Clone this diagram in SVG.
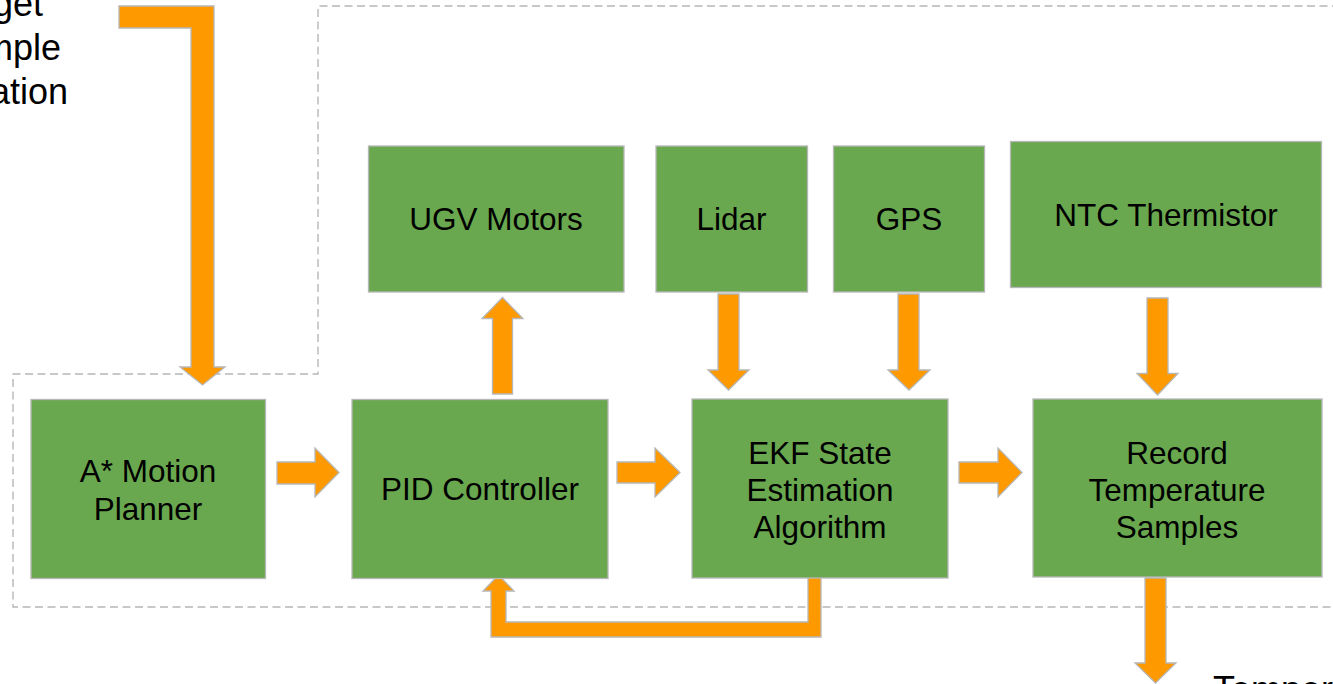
<svg xmlns="http://www.w3.org/2000/svg" width="1333" height="684" viewBox="0 0 1333 684">
  <style>
    .box { fill: #6aa84f; stroke: #b7b7b7; stroke-width: 1.3; }
    .lbl { font-family: "Liberation Sans", Arial, sans-serif; font-size: 31.5px; fill: #000000; text-anchor: middle; }
    .note { font-family: "Liberation Sans", Arial, sans-serif; font-size: 36px; fill: #000000; }
    .arrow { fill: #ff9900; stroke: #b7b7b7; stroke-width: 1.3; stroke-linejoin: miter; }
    .frame { fill: none; stroke: #b7b7b7; stroke-width: 1.4; stroke-dasharray: 8 4.5; }
  </style>
  <rect width="1333" height="684" fill="#ffffff"/>

  <!-- dashed boundary of the on-board system -->
  <path class="frame" d="M1340,6 H318 V374 H13 V607 H1340"/>

  <!-- free-standing labels at the page edges -->
  <g id="target-label">
    <text class="note" text-anchor="middle" x="-7" y="16">Target</text>
    <text class="note" text-anchor="middle" x="0" y="60">Sample</text>
    <text class="note" text-anchor="middle" x="0" y="104">Location</text>
  </g>
  <g id="output-label">
    <text class="note" x="1213" y="702">Temperature</text>
  </g>

  <!-- connectors (block arrows) -->
  <g id="connectors">
    <!-- target location into the planner -->
    <polygon class="arrow" points="119,6 214,6 214,367 225,367 202.5,385 180,367 191,367 191,28 119,28"/>
    <!-- planner to PID -->
    <polygon class="arrow" points="277,462 315,462 315,448 339,472.5 315,497 315,484 277,484"/>
    <!-- PID to EKF -->
    <polygon class="arrow" points="617,462 655,462 655,448 680,472.5 655,497 655,483 617,483"/>
    <!-- EKF to recorder -->
    <polygon class="arrow" points="959,462 998,462 998,448 1022,472.5 998,497 998,483 959,483"/>
    <!-- PID to motors -->
    <polygon class="arrow" points="492.5,394 492.5,318.5 482,318.5 502.5,297.5 523,318.5 512.5,318.5 512.5,394"/>
    <!-- lidar to EKF -->
    <polygon class="arrow" points="718,294 739,294 739,370 749,370 728.5,390 708,370 718,370"/>
    <!-- GPS to EKF -->
    <polygon class="arrow" points="898,294 919,294 919,370 930,370 909,390 888,370 898,370"/>
    <!-- thermistor to recorder -->
    <polygon class="arrow" points="1147,298 1168,298 1168,373.5 1178,373.5 1157.5,395 1137,373.5 1147,373.5"/>
    <!-- recorder output -->
    <polygon class="arrow" points="1145,578 1166,578 1166,663 1176,663 1155.5,683 1135,663 1145,663"/>
    <!-- state feedback from EKF back to PID -->
    <polygon class="arrow" points="808,576 821,576 821,637 491,637 491,591 483,591 498.5,575 514,591 506,591 506,622 808,622"/>
  </g>

  <g id="ugv-motors">
    <rect class="box" x="368.5" y="146" width="255.5" height="146"/>
    <text class="lbl" x="496" y="230">UGV Motors</text>
  </g>
  <g id="lidar">
    <rect class="box" x="656" y="146" width="151.5" height="146"/>
    <text class="lbl" x="731.5" y="230">Lidar</text>
  </g>
  <g id="gps">
    <rect class="box" x="833.5" y="146" width="151" height="146"/>
    <text class="lbl" x="909" y="230">GPS</text>
  </g>
  <g id="ntc-thermistor">
    <rect class="box" x="1010.5" y="141.5" width="311" height="146"/>
    <text class="lbl" x="1166" y="226">NTC Thermistor</text>
  </g>
  <g id="motion-planner">
    <rect class="box" x="31" y="399.5" width="234.5" height="179"/>
    <text class="lbl" x="148" y="482">A* Motion</text>
    <text class="lbl" x="148" y="519.5">Planner</text>
  </g>
  <g id="pid-controller">
    <rect class="box" x="352" y="399.5" width="256" height="179"/>
    <text class="lbl" x="480" y="500">PID Controller</text>
  </g>
  <g id="ekf">
    <rect class="box" x="692" y="399" width="256" height="179"/>
    <text class="lbl" x="820" y="464">EKF State</text>
    <text class="lbl" x="820" y="501">Estimation</text>
    <text class="lbl" x="820" y="538">Algorithm</text>
  </g>
  <g id="record-samples">
    <rect class="box" x="1033" y="399" width="289" height="178"/>
    <text class="lbl" x="1177" y="464">Record</text>
    <text class="lbl" x="1177" y="501">Temperature</text>
    <text class="lbl" x="1177" y="538">Samples</text>
  </g>
</svg>
